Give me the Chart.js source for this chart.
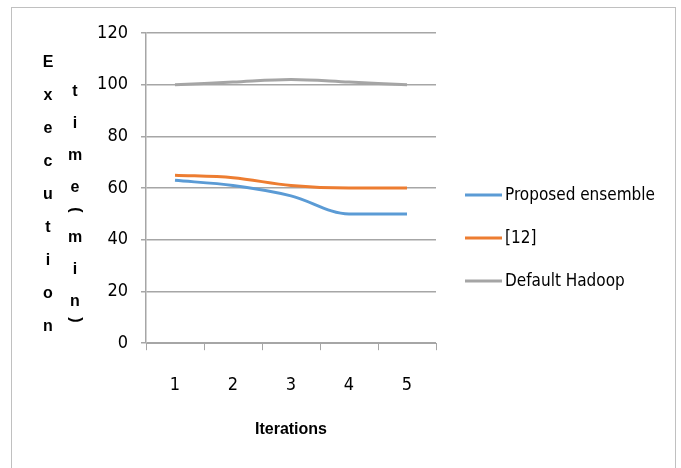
<!DOCTYPE html>
<html>
<head>
<meta charset="utf-8">
<script src="https://cdn.jsdelivr.net/npm/chart.js@4/dist/chart.umd.min.js"></script>
<style>
  html, body { margin: 0; padding: 0; background: #fff; }
</style>
</head>
<body>
<canvas id="execChart" width="681" height="468"></canvas>
<script>
const iterations = ['1', '2', '3', '4', '5'];
const proposedEnsemble = [63, 61, 57, 50, 50];
const ref12 = [65, 64, 61, 60, 60];
const defaultHadoop = [100, 101, 102, 101, 100];
const yTicks = [0, 20, 40, 60, 80, 100, 120];

const seriesLabels = ['Proposed ensemble', '[12]', 'Default Hadoop'];
const seriesColors = ['#5b9bd5', '#ed7d31', '#a5a5a5'];

const gridColor = '#a6a6a6';
const narrowFamily = '"Liberation Sans Narrow", "DejaVu Sans Condensed", "Liberation Sans", sans-serif';
const tickFont = { family: narrowFamily, size: 18 };

// cadre, titre vertical et légende dessinés à la main
const extras = {
  id: 'extras',
  afterDraw(chart) {
    const c = chart.ctx;
    c.save();

    // cadre du graphique
    c.strokeStyle = '#c0c0c0';
    c.lineWidth = 1;
    c.strokeRect(11.5, 7.5, 664, 470);

    // titre de l'axe Y, lettres empilées
    c.fillStyle = '#000';
    c.font = 'bold 16px "Liberation Sans", sans-serif';
    c.textAlign = 'center';
    c.textBaseline = 'middle';
    'Execution'.split('').forEach((ch, i) => c.fillText(ch, 48, 63 + i * 33));
    let y = 92;
    'time(min)'.split('').forEach(ch => {
      if (ch === '(' || ch === ')') {
        c.save();
        c.translate(75, ch === '(' ? y - 10 : y - 14);
        c.rotate(Math.PI / 2);
        c.fillText(ch, 0, 0);
        c.restore();
        y += 18;
      } else {
        c.fillText(ch, 75, y);
        y += 32;
      }
    });

    // légende à droite
    c.textAlign = 'left';
    c.font = '17px ' + narrowFamily;
    chart.data.datasets.forEach((ds, i) => {
      const ly = 195 + i * 43;
      c.strokeStyle = ds.borderColor;
      c.lineWidth = 3;
      c.beginPath();
      c.moveTo(465, ly);
      c.lineTo(502, ly);
      c.stroke();
      c.fillStyle = '#000';
      c.fillText(ds.label, 505, ly + 1);
    });

    c.restore();
  }
};

const ctx = document.getElementById('execChart').getContext('2d');
const execChart = new Chart(ctx, {
  type: 'line',
  data: {
    labels: iterations,
    datasets: [proposedEnsemble, ref12, defaultHadoop].map((d, i) => ({
      label: seriesLabels[i],
      data: d,
      borderColor: seriesColors[i],
      backgroundColor: seriesColors[i],
      borderWidth: 3,
      pointRadius: 0,
      tension: 0.3,
      cubicInterpolationMode: 'monotone',
      fill: false
    }))
  },
  options: {
    responsive: false,
    animation: false,
    layout: { padding: { left: 80, top: 33, right: 245, bottom: 0 } },
    plugins: {
      legend: { display: false },
      tooltip: { enabled: false }
    },
    scales: {
      x: {
        offset: true,
        grid: { offset: true, drawOnChartArea: false, drawTicks: true, tickLength: 7, color: gridColor },
        border: { color: gridColor },
        ticks: { font: tickFont, color: '#000', padding: 24 },
        title: {
          display: true,
          text: 'Iterations',
          font: { family: '"Liberation Sans", sans-serif', size: 16, weight: 'bold' },
          color: '#000',
          padding: { top: 0, bottom: 29 }
        }
      },
      y: {
        min: 0,
        max: 120,
        afterBuildTicks: axis => { axis.ticks = yTicks.map(v => ({ value: v })); },
        afterFit: axis => { axis.width = 66; },
        grid: { color: gridColor, tickLength: 5, lineWidth: 1.5 },
        border: { color: gridColor, width: 1.5 },
        ticks: { font: tickFont, color: '#000', padding: 13 }
      }
    }
  },
  plugins: [extras]
});
</script>
</body>
</html>
